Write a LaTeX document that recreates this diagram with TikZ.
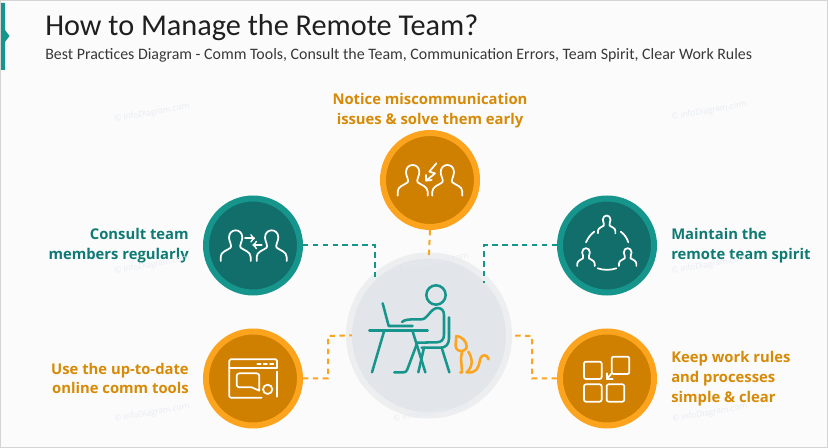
\documentclass[tikz,border=0pt]{standalone}
\usepackage{fontspec}
\setmainfont{Carlito}
\newfontfamily\labelfont{Open Sans}
\usetikzlibrary{arrows,positioning}
\definecolor{tealring}{HTML}{16958C}
\definecolor{tealcore}{HTML}{126E6B}
\definecolor{tealtext}{HTML}{0F7A74}
\definecolor{orangering}{HTML}{FCA41E}
\definecolor{orangecore}{HTML}{CF8000}
\definecolor{orangetext}{HTML}{D68A06}
\definecolor{hubring}{HTML}{ECEEF0}
\definecolor{hubcore}{HTML}{E2E5EA}
\definecolor{pagefill}{HTML}{FBFBFB}
\definecolor{pageedge}{HTML}{D4D4D4}
\definecolor{markcolor}{HTML}{E7EBF3}
\tikzset{node distance=10.5pt,
	tealdisc/.style={
		circle,
		minimum size=70.5pt,
		line width=4.5pt,
		draw=tealring,
		fill=tealcore
	},
	orangedisc/.style={
		circle,
		minimum size=70.5pt,
		line width=4.5pt,
		draw=orangering,
		fill=orangecore
	},
	hubdisc/.style={
		circle,
		minimum size=120pt,
		line width=4.5pt,
		draw=hubring,
		fill=hubcore
	},
	tiplabel/.style={
		font=\labelfont\bfseries\fontsize{11.1}{14.8}\selectfont,
		inner sep=0pt
	},
	wiretealdash/.style={
		draw=tealring,
		line width=1.5pt,
		dash pattern=on 4pt off 3.4pt
	},
	wireorangedash/.style={
		draw=orangering,
		line width=1.5pt,
		dash pattern=on 4pt off 3.4pt
	},
	icon/.style={
		draw=white,
		line width=1.3pt,
		line cap=round,
		line join=round,
		>=to
	},
	deskline/.style={
		draw=tealring,
		line width=1.9pt,
		line cap=round,
		line join=round
	},
	catline/.style={
		draw=orangering,
		line width=1.9pt,
		line cap=round,
		line join=round
	},
	infomark/.style={
		font=\labelfont\fontsize{6.2}{7}\selectfont,
		text=markcolor,
		rotate=10,
		inner sep=0pt
	},
	bust/.pic={
		\draw[icon] (-45,0) -- (-45,-12) .. controls (-45,-28) and (-25,-32) .. (-15,-40)
			.. controls (-10,-45) and (-20,-60) .. (-20,-70)
			.. controls (-20,-85) and (-10,-92) .. (0,-92)
			.. controls (10,-92) and (20,-85) .. (20,-70)
			.. controls (20,-60) and (10,-45) .. (15,-40)
			.. controls (25,-32) and (45,-28) .. (45,-12) -- (45,0);
	}
}

\begin{document}
\begin{tikzpicture}[x=.75pt,y=-.75pt]
	\useasboundingbox (0,0) rectangle (828,448);
	\fill[pagefill] (0,0) rectangle (828,448);
	\draw[pageedge,line width=1.1pt] (0,0) rectangle (828,448);
	\fill[tealring] (1,3) -- (5,3) -- (5,30) -- (9.5,36) -- (5,42) -- (5,70) -- (1,70) -- cycle;

	\node[anchor=base west,inner sep=0pt,text=black!88,font=\fontsize{22.7}{26}\selectfont] (title) at (45,36) {How to Manage the Remote Team?};
	\node[anchor=base west,inner sep=0pt,text=black!78,font=\fontsize{11.94}{14}\selectfont] (subtitle) at (45,60) {Best Practices Diagram - Comm Tools, Consult the Team, Communication Errors, Team Spirit, Clear Work Rules};

	% centre and the five tips
	\node[hubdisc] (hub) at (429,335.5) {};
	\node[orangedisc] (notice) at (430,180) {};
	\node[tealdisc] (consult) at (253,245.5) {};
	\node[tealdisc] (spirit) at (607,245.5) {};
	\node[orangedisc] (tools) at (253,378.5) {};
	\node[orangedisc] (rules) at (607,378.5) {};

	\node[tiplabel,text=orangetext,align=center,above=1.2pt of notice] (noticetext) {Notice miscommunication\\issues \& solve them early};
	\node[tiplabel,text=tealtext,align=right,left=of consult] (consulttext) {Consult team\\members regularly};
	\node[tiplabel,text=tealtext,align=left,right=of spirit] (spirittext) {Maintain the\\remote team spirit};
	\node[tiplabel,text=orangetext,align=right,left=of tools] (toolstext) {Use the up-to-date\\online comm tools};
	\node[tiplabel,text=orangetext,align=left,right=of rules] (rulestext) {Keep work rules\\and processes\\simple \& clear};

	\foreach \mx/\my [count=\mi] in {152/113,709/111,152/265,431/263,709/265,152/413,431/413,710/413}
		\node[infomark] (mark\mi) at (\mx,\my) {© infoDiagram.com};

	% connectors
	\coordinate (consultend) at (375,280);
	\coordinate (spiritend) at (484,283);
	\coordinate (toolsbend) at (328,336);
	\coordinate (rulesbend) at (532,336);
	\draw[wiretealdash] (consult.east) -| (consultend);
	\draw[wiretealdash] (spirit.west) -| (spiritend);
	\draw[wireorangedash,shorten >=-5pt] (notice.south) -- (hub.north);
	\draw[wireorangedash,shorten >=-4.5pt] (tools.east) -| (toolsbend) -- (hub.west);
	\draw[wireorangedash,shorten >=-.5pt] (rules.west) -| (rulesbend) -- (hub.east);

	% person at the desk with the cat
	\begin{scope}[shift={(340,240)},x=.25pt,y=-.25pt]
		\draw[deskline] (288,165) circle (29);
		\draw[deskline] (128,190) -- (146,258) -- (218,258);
		\draw[deskline] (88,271) -- (263,271);
		\draw[deskline] (133,271) -- (96,397);
		\draw[deskline] (217,271) -- (256,397);
		\draw[deskline] (186,246) .. controls (195,238) and (205,238) .. (245,238)
			.. controls (262,238) and (272,205) .. (292,204)
			.. controls (305,204) and (312,212) .. (312,225) -- (312,285)
			.. controls (312,300) and (302,307) .. (290,307) -- (232,308)
			-- (202,388) .. controls (200,395) and (196,397) .. (190,397) -- (163,397);
		\draw[deskline] (327,232) -- (327,295) .. controls (327,312) and (318,323) .. (302,323) -- (245,323);
		\draw[deskline] (252,323) -- (235,397);
		\draw[deskline] (305,323) -- (328,397);
		\draw[catline] (349,288) .. controls (362,288) and (380,302) .. (380,320)
			.. controls (380,330) and (368,334) .. (360,333)
			.. controls (350,331) and (346,322) .. (347,312) -- cycle;
		\draw[catline] (366,335) .. controls (360,355) and (366,380) .. (366,397) -- (361,397);
		\draw[catline] (385,335) .. controls (398,355) and (400,380) .. (380,397);
		\draw[catline] (380,397) .. controls (410,400) and (415,385) .. (420,360)
			.. controls (424,340) and (442,342) .. (446,358);
	\end{scope}

	% miscommunication icon
	\begin{scope}[shift={(370,125)},x=.25pt,y=-.25pt]
		\pic at (128,212) {bust};
		\pic at (232,212) {bust};
		\draw[icon] (199,115) -- (178,140) -- (195,145) -- (171,165);
		\draw[icon] (168,150) -- (168,167) -- (185,165);
	\end{scope}

	% consult icon
	\begin{scope}[shift={(195,190)},x=.25pt,y=-.25pt]
		\pic at (122,213) {bust};
		\pic at (230,213) {bust};
		\draw[icon,->] (150,145) -- (180,145);
		\draw[icon,->] (200,165) -- (172,165);
	\end{scope}

	% team spirit icon
	\begin{scope}[shift={(475,190)},x=.25pt,y=-.25pt]
		\pic[scale=.58] at (395,130) {bust};
		\pic[scale=.58] at (333,228) {bust};
		\pic[scale=.58] at (458,228) {bust};
		\draw[icon] (333,157) .. controls (340,142) and (348,132) .. (358,125);
		\draw[icon] (437,125) .. controls (447,132) and (455,142) .. (460,157);
		\draw[icon] (368,235) .. controls (385,241) and (407,241) .. (424,235);
	\end{scope}

	% online tools icon
	\begin{scope}[shift={(195,325)},x=.25pt,y=-.25pt]
		\draw[icon,rounded corners=1pt] (200,218) -- (103,218) -- (103,103) -- (246,103) -- (246,128);
		\draw[icon] (246,140) -- (246,215);
		\draw[icon] (103,128) -- (246,128);
		\draw[icon] (187,117) -- (197,117);
		\draw[icon] (206,117) -- (216,117);
		\draw[icon] (225,117) -- (235,117);
		\draw[icon,rounded corners=2pt] (170,187) -- (125,187) -- (125,145) -- (193,145) -- (193,175);
		\draw[icon] (170,187) -- (193,197) -- (193,175);
		\draw[icon] (218,193) circle (14);
	\end{scope}

	% work rules icon
	\begin{scope}[shift={(500,325)},x=.25pt,y=-.25pt]
		\draw[icon,rounded corners=1.5pt] (252,110) rectangle (305,162);
		\draw[icon,rounded corners=1.5pt] (252,178) rectangle (305,230);
		\draw[icon,rounded corners=1.5pt] (320,178) rectangle (373,230);
		\draw[icon,rounded corners=1.5pt] (335,95) rectangle (388,147);
		\draw[icon] (320,145) -- (320,162) -- (338,162);
		\draw[icon] (320,162) -- (337,143);
	\end{scope}
\end{tikzpicture}
\end{document}
